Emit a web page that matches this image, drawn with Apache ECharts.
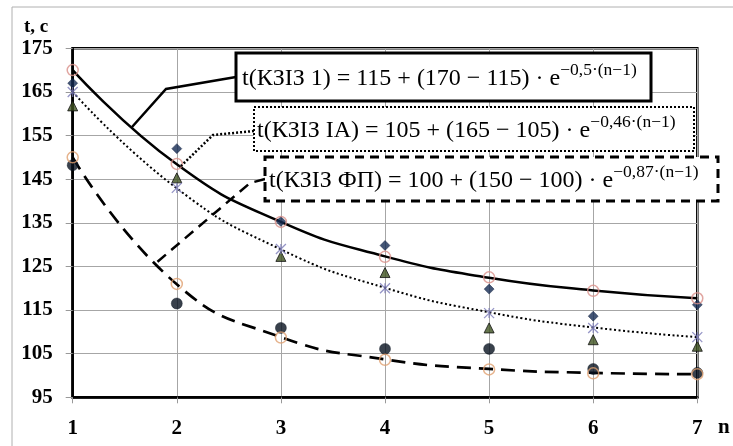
<!DOCTYPE html>
<html>
<head>
<meta charset="utf-8">
<script src="https://cdn.jsdelivr.net/npm/echarts@6/dist/echarts.min.js"></script>
<style>html,body{margin:0;padding:0;background:#fff}#c{width:733px;height:446px}</style>
</head>
<body>
<div id="c"></div>
<script>
const nValues = [1, 2, 3, 4, 5, 6, 7];
const fit1  = [170, 148.4, 135.2, 127.3, 122.4, 119.5, 117.7];
const fitIA = [165, 142.9, 128.9, 120.1, 114.5, 111.0, 108.8];
const fitFP = [150, 120.9, 108.8, 103.7, 101.5, 100.6, 100.3];
const model1  = [170, 148.5, 135.2, 127.2, 122.5, 119.4, 117.7];
const modelIA = [165, 143, 129, 120, 114.3, 110.9, 108.8];
const modelFP = [150, 121, 108.7, 103.6, 101.4, 100.5, 100.3];
const data1  = [167, 152, 135.3, 129.8, 119.8, 113.6, 116.2];
const dataIA = [161.8, 145.3, 127.3, 123.6, 110.9, 108.2, 106.7];
const dataFP = [148.2, 116.5, 110.9, 106.1, 106.1, 101.5, 100.6];
const yMin = 95, yMax = 175, yStep = 10;
const xMin = 1, xMax = 7;

const pairs = arr => arr.map((v, i) => [nValues[i], v]);
const SERIF = '"Liberation Serif", "Times New Roman", serif';

function formulaText(prefix, exp) {
  return '{m|' + prefix + '}{s|' + exp + '}';
}
const rich = {
  m: { fontFamily: SERIF, fontSize: 24, color: '#000', lineHeight: 30, verticalAlign: 'bottom' },
  s: { fontFamily: SERIF, fontSize: 17.5, color: '#000', lineHeight: 18, verticalAlign: 'top' }
};

const chart = echarts.init(document.getElementById('c'));
chart.setOption({
  animation: false,
  backgroundColor: '#fff',
  grid: { left: 72.7, right: 35.7, top: 48.3, bottom: 48.7, show: true, borderColor: '#000', borderWidth: 2.5, backgroundColor: 'transparent' },
  xAxis: {
    type: 'value', min: xMin, max: xMax, interval: 1,
    axisLine: { show: true, onZero: false, lineStyle: { color: '#000', width: 2.5 } },
    axisTick: { show: true, length: 6, lineStyle: { color: '#999' } },
    splitLine: { show: true, lineStyle: { color: '#a6a6a6', width: 1 } },
    axisLabel: { color: '#000', fontFamily: SERIF, fontWeight: 'bold', fontSize: 21, margin: 21 }
  },
  yAxis: {
    type: 'value', min: yMin, max: yMax, interval: yStep,
    axisLine: { show: true, lineStyle: { color: '#000', width: 2.5 } },
    axisTick: { show: true, length: 7, lineStyle: { color: '#999' } },
    splitLine: { show: true, lineStyle: { color: '#a6a6a6', width: 1 } },
    axisLabel: { color: '#000', fontFamily: SERIF, fontWeight: 'bold', fontSize: 21, margin: 20 }
  },
  series: [
    { type: 'line', data: pairs(fit1), smooth: 0.5, showSymbol: false, z: 3,
      lineStyle: { color: '#000', width: 2.5 } },
    { type: 'line', data: pairs(fitIA), smooth: 0.5, showSymbol: false, z: 3,
      lineStyle: { color: '#000', width: 2, type: [2, 2.5] } },
    { type: 'line', data: pairs(fitFP), smooth: 0.5, showSymbol: false, z: 3,
      lineStyle: { color: '#000', width: 2.7, type: [14, 8] } },
    { type: 'scatter', data: pairs(data1), symbol: 'diamond', symbolSize: 10, z: 4,
      itemStyle: { color: '#142a52', borderColor: '#0c1a36', borderWidth: 0.5 } },
    { type: 'scatter', data: pairs(dataIA), symbol: 'triangle', symbolSize: 10, z: 4,
      itemStyle: { color: '#3f5220', borderColor: '#111', borderWidth: 1 } },
    { type: 'scatter', data: pairs(dataFP), symbol: 'circle', symbolSize: 11, z: 4,
      itemStyle: { color: '#07111f', borderColor: '#07111f', borderWidth: 0.5 } },
    { type: 'scatter', data: pairs(model1), symbol: 'circle', symbolSize: 11, z: 4,
      itemStyle: { color: 'rgba(255,255,255,0)', borderColor: '#d9908a', borderWidth: 1.5 } },
    { type: 'scatter', data: pairs(modelIA), symbol: 'path://M0,0L10,10M10,0L0,10M5,0L5,10', symbolSize: 10, z: 4,
      itemStyle: { color: 'rgba(0,0,0,0)', borderColor: '#7a7ab8', borderWidth: 1.3 } },
    { type: 'scatter', data: pairs(modelFP), symbol: 'circle', symbolSize: 11, z: 4,
      itemStyle: { color: 'rgba(255,255,255,0)', borderColor: '#e0a070', borderWidth: 1.5 } }
  ],
  graphic: [
    { type: 'rect', z: 0, silent: true, shape: { x: 12, y: 7, width: 760, height: 480 },
      style: { fill: 'none', stroke: '#b0b0b0', lineWidth: 1 } },
    { type: 'text', z: 100, left: 24, top: 18, style: { text: 't, c', fontFamily: SERIF, fontWeight: 'bold', fontSize: 19, fill: '#000' } },
    { type: 'text', z: 100, left: 718, top: 417, style: { text: 'n', fontFamily: SERIF, fontWeight: 'bold', fontSize: 21, fill: '#000' } },
    // leader lines
    { type: 'polyline', z: 90, shape: { points: [[236, 77], [166, 89], [132, 127]] },
      style: { stroke: '#000', lineWidth: 2.5, fill: 'none' } },
    { type: 'polyline', z: 90, shape: { points: [[254, 131], [213, 135], [181, 166]] },
      style: { stroke: '#000', lineWidth: 2.5, fill: 'none', lineDash: [2, 2] } },
    { type: 'polyline', z: 90, shape: { points: [[265, 179], [250, 183], [156, 263]] },
      style: { stroke: '#000', lineWidth: 2.5, fill: 'none', lineDash: [11, 7] } },
    // box 1
    { type: 'rect', z: 100, shape: { x: 236, y: 53, width: 415, height: 48 },
      style: { fill: '#fff', stroke: '#000', lineWidth: 3 } },
    { type: 'text', z: 101, x: 242, y: 76, style: {
      text: formulaText('t(КЗІЗ 1) = 115 + (170 − 115) · e', '−0,5·(n−1)'),
      rich: rich, verticalAlign: 'middle', align: 'left' } },
    // box 2
    { type: 'rect', z: 100, shape: { x: 254, y: 107, width: 440, height: 44 },
      style: { fill: '#fff', stroke: '#000', lineWidth: 2, lineDash: [2, 2] } },
    { type: 'text', z: 101, x: 257, y: 128, style: {
      text: formulaText('t(КЗІЗ ІА) = 105 + (165 − 105) · e', '−0,46·(n−1)'),
      rich: rich, verticalAlign: 'middle', align: 'left' } },
    // box 3
    { type: 'rect', z: 100, shape: { x: 265, y: 157, width: 453, height: 44 },
      style: { fill: '#fff', stroke: '#000', lineWidth: 3, lineDash: [9, 6] } },
    { type: 'text', z: 101, x: 269, y: 178, style: {
      text: formulaText('t(КЗІЗ ФП) = 100 + (150 − 100) · e', '−0,87·(n−1)'),
      rich: rich, verticalAlign: 'middle', align: 'left' } }
  ]
});
</script>
</body>
</html>
